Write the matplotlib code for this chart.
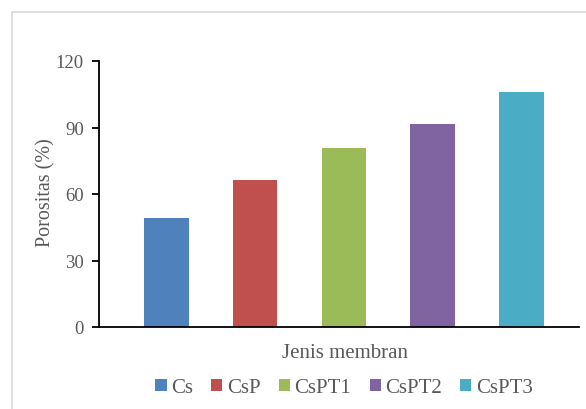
import matplotlib.pyplot as plt
from matplotlib.patches import Rectangle, Patch

membranes = ["Cs", "CsP", "CsPT1", "CsPT2", "CsPT3"]
porosity = [49.2, 66.4, 80.7, 91.4, 106.1]
colors = ["#4F81BD", "#C0504D", "#9BBB59", "#8064A2", "#4BACC6"]
yticks = [0, 30, 60, 90, 120]

W, H = 586, 410
text_gray = "#595959"

plt.rcParams["font.family"] = ["Liberation Serif", "DejaVu Serif"]

fig = plt.figure(figsize=(W / 100, H / 100), dpi=100)

# light gray frame around the chart area
fig.patches.append(Rectangle((12 / W, -0.1), 1.2, 1 - 13 / H + 0.1,
                             transform=fig.transFigure, fill=False,
                             edgecolor="#D9D9D9", linewidth=1.2))

ax = fig.add_axes([99 / W, 1 - 328 / H, (579 - 99) / W, (328 - 62) / H])
x = range(len(membranes))
ax.bar(x, porosity, width=0.5, color=colors)

ax.set_xlim(-0.76, 4.65)
ax.set_ylim(0, 120)
ax.set_yticks(yticks)
ax.set_xticks([])
for s in ["top", "right"]:
    ax.spines[s].set_visible(False)
for s in ["left", "bottom"]:
    ax.spines[s].set_linewidth(1.3)
    ax.spines[s].set_color("black")
ax.tick_params(axis="y", length=5, width=1.3, direction="out",
               labelsize=13.5, labelcolor=text_gray, pad=6)

fig.text(46 / W, 1 - 193 / H, "Porositas (%)", rotation=90, ha="center",
         va="center", fontsize=14.5, color=text_gray)
fig.text(345 / W, 1 - 354 / H, "Jenis membran", ha="center", va="center",
         fontsize=15, color=text_gray)

handles = [Patch(facecolor=c, label=m) for m, c in zip(membranes, colors)]
fig.legend(handles=handles, loc="center", bbox_to_anchor=(344 / W, 1 - 389 / H),
           ncol=5, frameon=False, fontsize=15, labelcolor=text_gray,
           handlelength=0.53, handleheight=0.53, handletextpad=0.2,
           columnspacing=0.9, borderaxespad=0, borderpad=0)

fig.savefig("out.png", dpi=100)
